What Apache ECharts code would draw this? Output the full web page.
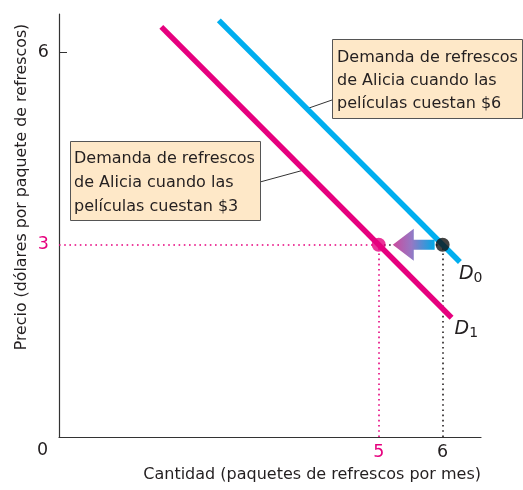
<!DOCTYPE html>
<html>
<head>
<meta charset="utf-8">
<script src="https://cdn.jsdelivr.net/npm/echarts@6/dist/echarts.min.js"></script>
<style>
html, body { margin: 0; padding: 0; background: #fff; }
#chart { width: 523px; height: 490px; }
</style>
</head>
<body>
<div id="chart"></div>
<script>
// values
const xTicks = [5, 6];
const yTicks = [3, 6];
const demandD0 = [[2.5, 6.5], [6.27, 2.73]];   // movies cost $6
const demandD1 = [[1.6, 6.4], [6.14, 1.86]];   // movies cost $3
const pointD1 = [5, 3];
const pointD0 = [6, 3];
const shiftArrow = [[5.875, 3, 5.22]];         // [fromX, y, toX]
const pinkGuides = [[[0, 3], [5, 3]], [[5, 0], [5, 3]]];
const blackGuides = [[[6, 0], [6, 3]], [[5, 3], [6, 3]]];

const PINK = '#e6007e';
const BLUE = '#00aeef';
const INK = '#231f20';
const FONT = 'DejaVu Sans';
const TICK_SIZE = 17.5;

const chart = echarts.init(document.getElementById('chart'));

const subLabel = (n) => ({
    show: true,
    formatter: `{i|D}{s|${n}}`,
    rich: {
        i: { fontStyle: 'italic', fontSize: 19, color: INK, fontFamily: FONT },
        s: { fontSize: 14, color: INK, fontFamily: FONT, padding: [9, 0, 0, 0] },
    },
});

const tickRich = {
    p: { color: PINK, fontSize: TICK_SIZE, fontFamily: FONT },
    k: { color: INK, fontSize: TICK_SIZE, fontFamily: FONT },
};

const option = {
    animation: false,
    textStyle: { fontFamily: FONT, color: INK },
    grid: { left: 59, top: 14, width: 422, height: 423 },
    xAxis: {
        type: 'value', min: 0, max: 6.6,
        splitLine: { show: false },
        axisLine: { lineStyle: { color: '#333', width: 1.2 } },
        axisTick: { show: false },
        axisLabel: {
            customValues: xTicks, margin: 6, fontSize: TICK_SIZE, fontFamily: FONT,
            formatter: (v) => (v === 5 ? `{p|${v}}` : `{k|${v}}`),
            rich: tickRich,
        },
    },
    yAxis: {
        type: 'value', min: 0, max: 6.6,
        splitLine: { show: false },
        axisLine: { lineStyle: { color: '#333', width: 1.2 } },
        axisTick: { customValues: [6], inside: true, length: 8, lineStyle: { color: '#333' } },
        axisLabel: {
            customValues: yTicks, margin: 10, fontSize: TICK_SIZE, fontFamily: FONT,
            formatter: (v) => (v === 3 ? `{p|${v}}` : `{k|${v}}`),
            rich: tickRich,
        },
    },
    series: [
        {
            type: 'lines', coordinateSystem: 'cartesian2d', silent: true, z: 1,
            data: pinkGuides.map((c) => ({ coords: c })),
            lineStyle: { color: PINK, width: 1.6, type: [1.6, 3.6], opacity: 1 },
        },
        {
            type: 'lines', coordinateSystem: 'cartesian2d', silent: true, z: 1,
            data: blackGuides.map((c) => ({ coords: c })),
            lineStyle: { color: INK, width: 1.6, type: [1.6, 3.6], opacity: 1 },
        },
        {
            name: 'D0', type: 'line', data: demandD0, showSymbol: false, z: 2,
            lineStyle: { color: BLUE, width: 5.5, cap: 'butt' },
            endLabel: { ...subLabel(0), offset: [-9, 12] },
        },
        {
            name: 'D1', type: 'line', data: demandD1, showSymbol: false, z: 2,
            lineStyle: { color: PINK, width: 5.5, cap: 'butt' },
            endLabel: { ...subLabel(1), offset: [-5, 11] },
        },
        {
            type: 'custom', z: 3, silent: true, data: shiftArrow,
            renderItem: (params, api) => {
                const tail = api.coord([api.value(0), api.value(1)]);
                const tip = api.coord([api.value(2), api.value(1)]);
                const headLen = 21, headHalf = 16, bodyHalf = 5;
                const neck = tip[0] + headLen;
                const y = tip[1];
                return {
                    type: 'polygon',
                    shape: {
                        points: [
                            [tip[0], y],
                            [neck, y - headHalf],
                            [neck, y - bodyHalf],
                            [tail[0], y - bodyHalf],
                            [tail[0], y + bodyHalf],
                            [neck, y + bodyHalf],
                            [neck, y + headHalf],
                        ],
                    },
                    style: {
                        fill: new echarts.graphic.LinearGradient(0, 0, 1, 0, [
                            { offset: 0, color: '#cc4a9d' },
                            { offset: 0.45, color: '#9678c4' },
                            { offset: 1, color: '#00a9e6' },
                        ]),
                    },
                };
            },
        },
        {
            type: 'scatter', z: 4, symbolSize: 14, data: [pointD1],
            itemStyle: { color: PINK },
        },
        {
            type: 'scatter', z: 4, symbolSize: 14, data: [pointD0],
            itemStyle: { color: '#111' },
        },
    ],
    graphic: [
        {
            type: 'text', x: 42.5, y: 450,
            style: { text: '0', fontSize: TICK_SIZE, fontFamily: FONT, fill: INK, align: 'center', verticalAlign: 'middle' },
        },
        {
            type: 'text', x: 22, y: 187, rotation: Math.PI / 2,
            style: {
                text: 'Precio (dólares por paquete de refrescos)',
                fontSize: 15.8, fontFamily: FONT, fill: INK, align: 'center', verticalAlign: 'middle',
            },
        },
        {
            type: 'text', x: 481, y: 475,
            style: {
                text: 'Cantidad (paquetes de refrescos por mes)',
                fontSize: 16, fontFamily: FONT, fill: INK, align: 'right', verticalAlign: 'middle',
            },
        },
        // leader lines
        { type: 'line', shape: { x1: 309, y1: 108, x2: 332, y2: 100 }, style: { stroke: '#333', lineWidth: 1 } },
        { type: 'line', shape: { x1: 260, y1: 182, x2: 304, y2: 170 }, style: { stroke: '#333', lineWidth: 1 } },
        // callout boxes
        {
            type: 'rect', shape: { x: 332.5, y: 39.5, width: 190, height: 79 },
            style: { fill: '#fee8c8', stroke: '#555', lineWidth: 1 },
        },
        {
            type: 'text', x: 337, y: 46,
            style: {
                text: 'Demanda de refrescos\nde Alicia cuando las\npelículas cuestan $6',
                fontSize: 16, lineHeight: 23, fontFamily: FONT, fill: INK,
            },
        },
        {
            type: 'rect', shape: { x: 70.5, y: 141.5, width: 190, height: 79 },
            style: { fill: '#fee8c8', stroke: '#555', lineWidth: 1 },
        },
        {
            type: 'text', x: 74, y: 147,
            style: {
                text: 'Demanda de refrescos\nde Alicia cuando las\npelículas cuestan $3',
                fontSize: 16, lineHeight: 24, fontFamily: FONT, fill: INK,
            },
        },
    ],
};

chart.setOption(option);
</script>
</body>
</html>
